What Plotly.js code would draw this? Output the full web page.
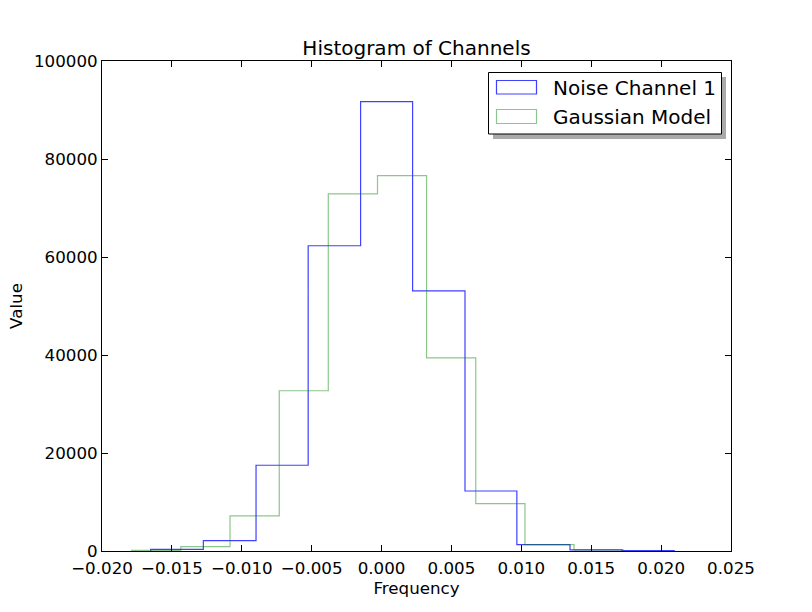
<!DOCTYPE html>
<html>
<head>
<meta charset="utf-8">
<script src="https://cdn.plot.ly/plotly-3.0.1.min.js"></script>
<style>
  body { margin: 0; background: #fff; }
  #hist { width: 800px; height: 600px; }
</style>
</head>
<body>
<div id="hist"></div>
<script>
const plot_dom_id = "hist";

// bin edges and counts
var noiseEdges = [-0.01652, -0.01275, -0.00898, -0.00525, -0.0015, 0.00222, 0.00597, 0.00968, 0.01348, 0.0172, 0.02094];
var noiseCounts = [350, 2100, 17500, 62300, 91700, 53100, 12250, 1300, 250, 80];

var gaussEdges = [-0.01788, -0.01436, -0.01084, -0.00732, -0.00381, -0.00029, 0.00322, 0.00674, 0.01026, 0.01377, 0.01729];
var gaussCounts = [140, 880, 7150, 32700, 72900, 76600, 39400, 9650, 1300, 250];

var legendNames = ["Noise Channel 1", "Gaussian Model"];
var xTicks = [-0.020, -0.015, -0.010, -0.005, 0.000, 0.005, 0.010, 0.015, 0.020, 0.025];
var yTicks = [0, 20000, 40000, 60000, 80000, 100000];

// step outline like histtype='step'
function stepTrace(edges, counts, color, name) {
  var xs = [edges[0]];
  var ys = [0];
  for (var i = 0; i < counts.length; i++) {
    xs.push(edges[i]);
    ys.push(counts[i]);
  }
  xs.push(edges[edges.length - 1]);
  ys.push(0);
  return {
    x: xs, y: ys, name: name,
    type: "scatter", mode: "lines",
    line: {shape: "hv", color: color, width: 1.2},
    showlegend: false, hoverinfo: "skip"
  };
}

var blue = "rgba(0,0,255,0.75)";
var green = "rgba(0,128,0,0.45)";

var data = [
  stepTrace(noiseEdges, noiseCounts, blue, legendNames[0]),
  stepTrace(gaussEdges, gaussCounts, green, legendNames[1])
];

// pixel -> paper helpers for the hand-made legend box
function px(x) { return (x - 102) / 629; }
function py(y) { return (551 - y) / 490; }

var font = "DejaVu Sans, sans-serif";

var shapes = [
  {type: "rect", xref: "paper", yref: "paper", x0: px(493), x1: px(726), y0: py(139), y1: py(77),
   fillcolor: "#aaa", line: {width: 0}, layer: "above"},
  {type: "rect", xref: "paper", yref: "paper", x0: px(488.5), x1: px(721.5), y0: py(134), y1: py(72.5),
   fillcolor: "#fff", line: {color: "#000", width: 1}, layer: "above"},
  {type: "rect", xref: "paper", yref: "paper", x0: px(496.5), x1: px(536.5), y0: py(94), y1: py(80.5),
   fillcolor: "rgba(0,0,0,0)", line: {color: blue, width: 1.2}, layer: "above"},
  {type: "rect", xref: "paper", yref: "paper", x0: px(496.5), x1: px(536.5), y0: py(123.5), y1: py(109.5),
   fillcolor: "rgba(0,0,0,0)", line: {color: green, width: 1.2}, layer: "above"}
];

var annotations = [
  {xref: "paper", yref: "paper", x: px(551), y: py(87.5), xanchor: "left", yanchor: "middle",
   text: legendNames[0], showarrow: false, font: {family: font, size: 20, color: "#000"}},
  {xref: "paper", yref: "paper", x: px(551), y: py(116.5), xanchor: "left", yanchor: "middle",
   text: legendNames[1], showarrow: false, font: {family: font, size: 20, color: "#000"}}
];

var layout = {
  width: 800,
  height: 600,
  margin: {l: 102, r: 69, t: 61, b: 49},
  paper_bgcolor: "#fff",
  plot_bgcolor: "#fff",
  font: {family: font, size: 16.7, color: "#000"},
  title: {text: "Histogram of Channels", font: {family: font, size: 20},
          x: 0.5, xref: "paper", xanchor: "center", y: 1, yref: "paper", yanchor: "bottom", pad: {b: 6}},
  xaxis: {
    range: [-0.020, 0.025], tickvals: xTicks, tickformat: ".3f",
    ticks: "inside", ticklen: 6, tickcolor: "#000", mirror: "ticks",
    ticklabelstandoff: 2,
    showline: true, linecolor: "#000", linewidth: 1,
    showgrid: false, zeroline: false, automargin: false,
    title: {text: "Frequency", font: {family: font, size: 16.7}, standoff: 3}
  },
  yaxis: {
    range: [0, 100000], tickvals: yTicks, tickformat: "d",
    ticks: "inside", ticklen: 6, tickcolor: "#000", mirror: "ticks",
    showline: true, linecolor: "#000", linewidth: 1,
    showgrid: false, zeroline: false, automargin: false,
    title: {text: "Value", font: {family: font, size: 16.7}, standoff: 7}
  },
  shapes: shapes,
  annotations: annotations,
  showlegend: false
};

Plotly.newPlot(plot_dom_id, data, layout, {displayModeBar: false, staticPlot: true});
</script>
</body>
</html>
